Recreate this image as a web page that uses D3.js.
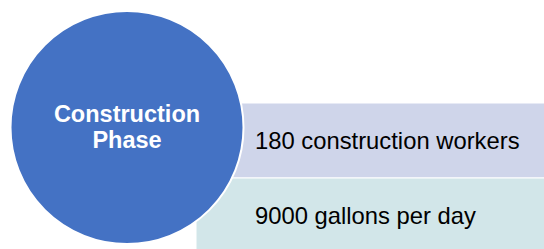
<!DOCTYPE html>
<html>
<head>
<meta charset="utf-8">
<script src="https://cdn.jsdelivr.net/npm/d3@7"></script>
<style>
html,body{margin:0;padding:0;background:#fff;}
svg{display:block;}
</style>
</head>
<body>
<script>
const phaseLines = ["Construction", "Phase"];
const items = ["180 construction workers", "9000 gallons per day"];
const itemColors = ["#CFD5EA", "#D2E6E9"];

const W = 544, H = 249;
const svg = d3.select("body").append("svg").attr("width", W).attr("height", H);

const y = d3.scaleBand().domain(items).range([103, 253]).padding(0);
const x = d3.scaleLinear().domain([0, 1]).range([196, 545]);

svg.selectAll("rect.item").data(items).join("rect")
  .attr("class", "item")
  .attr("x", x(0)).attr("y", d => y(d))
  .attr("width", x(1) - x(0)).attr("height", y.bandwidth())
  .attr("fill", (d, i) => itemColors[i])
  .attr("stroke", "#fff").attr("stroke-width", 1);

svg.selectAll("text.item").data(items).join("text")
  .attr("class", "item")
  .attr("x", 255).attr("y", d => y(d) + y.bandwidth() / 2 + 8.5)
  .attr("font-family", "Liberation Sans, Arial, sans-serif")
  .attr("font-size", 23.8).attr("fill", "#000")
  .text(d => d);

const cx = 127, cy = 127.5, r = 116.5;
svg.append("circle").attr("cx", cx).attr("cy", cy).attr("r", r)
  .attr("fill", "#4472C4").attr("stroke", "#fff").attr("stroke-width", 2);

svg.selectAll("text.phase").data(phaseLines).join("text")
  .attr("class", "phase")
  .attr("x", cx).attr("y", (d, i) => 121.7 + i * 26.3)
  .attr("text-anchor", "middle")
  .attr("font-family", "Liberation Sans, Arial, sans-serif")
  .attr("font-weight", "bold").attr("font-size", 23.5).attr("fill", "#fff")
  .text(d => d);
</script>
</body>
</html>
